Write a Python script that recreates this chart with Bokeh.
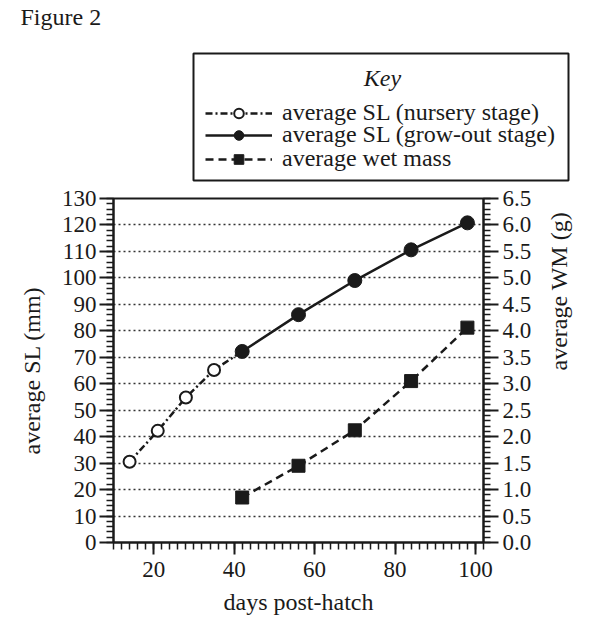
import math
from bokeh.plotting import figure
from bokeh.layouts import column
from bokeh.models import (Range1d, LinearAxis, SingleIntervalTicker, PrintfTickFormatter,
                          Legend, LegendItem, Label, BoxAnnotation)
from bokeh.embed import file_html
from bokeh.resources import INLINE

# ---- data ----
days_nursery = [14, 21, 28, 35]
sl_nursery = [30.5, 42.2, 54.8, 65.2]
days_growout = [42, 56, 70, 84, 98]
sl_growout = [72.2, 86.1, 99.0, 110.6, 120.8]
days_wm = [42, 56, 70, 84, 98]
wet_mass = [0.85, 1.45, 2.12, 3.05, 4.06]

legend_labels = ["average SL (nursery stage)", "average SL (grow-out stage)", "average wet mass"]

SERIF = "Liberation Serif"
INK = "#1a1a1a"
W = 590
HEAD_H = 182

# styles shared by the plot and its key
n_line_style = dict(line_color=INK, line_width=2.5, line_dash="7 3 2 3")
g_line_style = dict(line_color=INK, line_width=2.5)
w_line_style = dict(line_color=INK, line_width=2.5, line_dash="8 5")
n_pt_style = dict(marker="circle", fill_color="white", line_color=INK, line_width=2)
g_pt_style = dict(marker="circle", fill_color=INK, line_color=INK)
w_pt_style = dict(marker="square", fill_color=INK, line_color=INK)

# ---------------- header: caption + key ----------------
head = figure(width=W, height=HEAD_H, x_range=Range1d(0, W), y_range=Range1d(0, HEAD_H),
              output_backend="svg", toolbar_location=None,
              x_axis_type=None, y_axis_type=None,
              min_border_left=0, min_border_right=0, min_border_top=0, min_border_bottom=0)
head.frame_align = False
head.grid.visible = False
head.outline_line_color = None
head.background_fill_color = "white"
head.border_fill_color = "white"
# key renderers reuse the series but on a range that keeps them out of view
head.extra_x_ranges = {"off": Range1d(-1000, -900)}

k_n_line = head.line(days_nursery, sl_nursery, x_range_name="off", **n_line_style)
k_n_pts = head.scatter(days_nursery, sl_nursery, x_range_name="off", size=12, **n_pt_style)
k_g_line = head.line(days_growout, sl_growout, x_range_name="off", **g_line_style)
k_g_pts = head.scatter(days_growout, sl_growout, x_range_name="off", size=14, **g_pt_style)
k_w_line = head.line(days_wm, wet_mass, x_range_name="off", **w_line_style)
k_w_pts = head.scatter(days_wm, wet_mass, x_range_name="off", size=13, **w_pt_style)

# key frame
head.add_layout(BoxAnnotation(left=193, right=568, top=HEAD_H - 53, bottom=HEAD_H - 180,
                              fill_color=None, fill_alpha=0, line_color=INK, line_width=2,
                              line_alpha=1))

row_centres = [113, 135, 159]
row_renderers = [[k_n_line, k_n_pts], [k_g_line, k_g_pts], [k_w_line, k_w_pts]]
for lab, rends, cy in zip(legend_labels, row_renderers, row_centres):
    lg = Legend(items=[LegendItem(label=lab, renderers=rends)],
                location=(205, HEAD_H - cy - 13.3), orientation="vertical")
    lg.label_text_font = SERIF
    lg.label_text_font_size = "24px"
    lg.label_text_color = INK
    lg.label_height = 24
    lg.glyph_height = 24
    lg.glyph_width = 67
    lg.label_standoff = 10
    lg.padding = 0
    lg.spacing = 0
    lg.margin = 0
    lg.border_line_color = None
    lg.background_fill_alpha = 0
    head.add_layout(lg)

head.add_layout(Label(x=382, y=HEAD_H - 77, text="Key", text_font=SERIF, text_font_size="24px",
                      text_font_style="italic", text_color=INK, text_align="center",
                      text_baseline="alphabetic"))
head.add_layout(Label(x=20, y=HEAD_H - 16, text="Figure 2", text_font=SERIF,
                      text_font_size="24px", text_color=INK, text_baseline="alphabetic"))

# ---------------- main chart ----------------
p = figure(width=W, height=440, x_range=Range1d(10, 102), y_range=Range1d(0, 130),
           output_backend="svg", toolbar_location=None,
           min_border_left=113, min_border_right=107, min_border_top=16, min_border_bottom=80)
p.frame_align = False
p.extra_y_ranges = {"wm": Range1d(0, 6.5)}
p.background_fill_color = "white"
p.border_fill_color = "white"
p.outline_line_color = INK
p.outline_line_width = 2
p.outline_line_alpha = 1

p.xgrid.visible = False
p.ygrid.grid_line_color = "#333333"
p.ygrid.grid_line_dash = "2 3"
p.ygrid.grid_line_width = 1.5

p.xaxis.ticker = SingleIntervalTicker(interval=20, num_minor_ticks=10)
p.yaxis.ticker = SingleIntervalTicker(interval=10, num_minor_ticks=5)
p.xaxis.axis_label = "days post-hatch"
p.yaxis.axis_label = "average SL (mm)"

right = LinearAxis(y_range_name="wm",
                   ticker=SingleIntervalTicker(interval=0.5, num_minor_ticks=5),
                   formatter=PrintfTickFormatter(format="%.1f"),
                   axis_label="average WM (g)")
p.add_layout(right, "right")

for ax in [p.xaxis[0], p.yaxis[0], right]:
    ax.axis_line_color = INK
    ax.axis_line_width = 2
    ax.major_tick_line_color = INK
    ax.major_tick_line_width = 2
    ax.minor_tick_line_color = INK
    ax.minor_tick_line_width = 1.5
    ax.major_tick_in = 0
    ax.minor_tick_in = 0
    ax.major_label_text_font = SERIF
    ax.major_label_text_font_size = "23px"
    ax.major_label_text_color = INK
    ax.axis_label_text_font = SERIF
    ax.axis_label_text_font_size = "24px"
    ax.axis_label_text_font_style = "normal"
    ax.axis_label_text_color = INK

p.yaxis[0].major_tick_out = 14
p.yaxis[0].minor_tick_out = 7
p.yaxis[0].major_label_standoff = 3
p.yaxis[0].axis_label_standoff = 14
right.major_tick_out = 15
right.minor_tick_out = 7
right.major_label_standoff = 4
right.axis_label_standoff = 25
right.axis_label_orientation = math.pi / 2
p.xaxis[0].major_tick_out = 12
p.xaxis[0].minor_tick_out = 7
p.xaxis[0].major_label_standoff = 7
p.xaxis[0].axis_label_standoff = 9

p.line(days_nursery + days_growout[:1], sl_nursery + sl_growout[:1], **n_line_style)
p.line(days_growout, sl_growout, **g_line_style)
p.line(days_wm, wet_mass, y_range_name="wm", **w_line_style)
p.scatter(days_nursery, sl_nursery, size=12, **n_pt_style)
p.scatter(days_growout, sl_growout, size=14, **g_pt_style)
p.scatter(days_wm, wet_mass, y_range_name="wm", size=13, **w_pt_style)

layout = column(head, p, spacing=0)
open("out.html", "w").write(file_html(layout, INLINE))
